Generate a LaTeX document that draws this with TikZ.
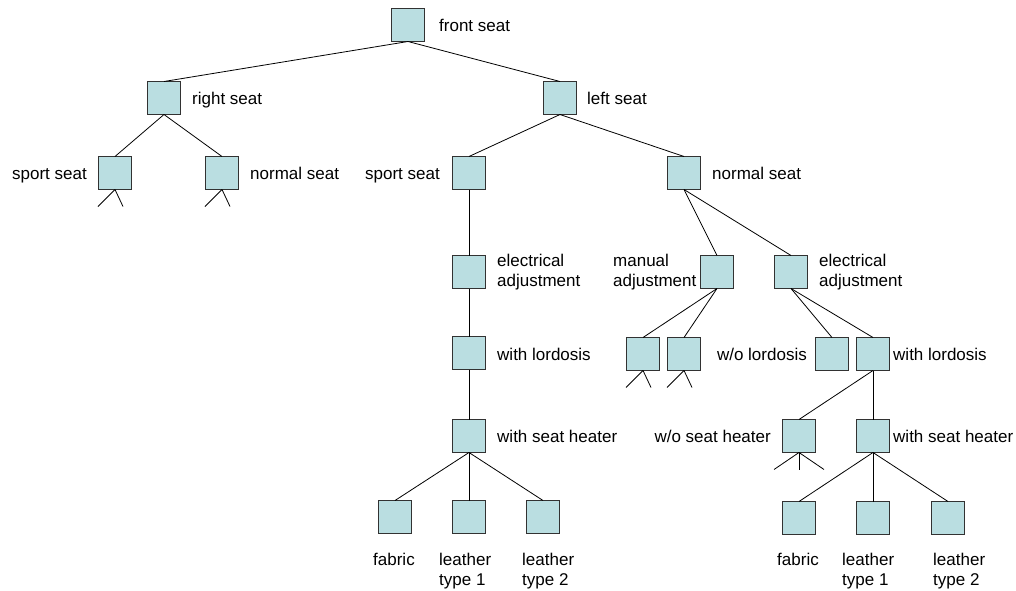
\documentclass[tikz,border=0pt]{standalone}
\usepackage{fontspec}
\setmainfont{Liberation Sans}
\usetikzlibrary{calc}
\definecolor{boxfill}{RGB}{186,222,225}
\definecolor{boxline}{RGB}{50,50,50}
\begin{document}
\begin{tikzpicture}[x=1pt,y=-1pt,
  featbox/.style={draw=boxline,fill=boxfill,line width=1pt,minimum size=33pt,inner sep=0pt,outer sep=0pt},
  lbl/.style={inner sep=0pt,font=\fontsize{17}{20}\selectfont},
  lblml/.style={inner sep=0pt,align=left,font=\fontsize{17}{20}\selectfont},
  conn/.style={line width=0.8pt,black}]
\useasboundingbox (0,0) rectangle (1016,590);
% boxes
\node[featbox] (fs) at (408,25) {};
\node[featbox] (rs) at (164,98) {};
\node[featbox] (ls) at (560,98) {};
\node[featbox] (rss) at (115,173) {};
\node[featbox] (rns) at (222,173) {};
\node[featbox] (lss) at (469,173) {};
\node[featbox] (lns) at (684,173) {};
\node[featbox] (lea) at (469,272) {};
\node[featbox] (lwl) at (469,353) {};
\node[featbox] (lwh) at (469,436) {};
\node[featbox] (lf) at (395,517) {};
\node[featbox] (ll1) at (469,517) {};
\node[featbox] (ll2) at (543,517) {};
\node[featbox] (nma) at (717,272) {};
\node[featbox] (nea) at (791,272) {};
\node[featbox] (m1) at (643,354) {};
\node[featbox] (m2) at (684,354) {};
\node[featbox] (nwo) at (832,354) {};
\node[featbox] (nwl) at (873,354) {};
\node[featbox] (wosh) at (799,436) {};
\node[featbox] (wsh) at (873,436) {};
\node[featbox] (rf) at (799,518) {};
\node[featbox] (rl1) at (873,518) {};
\node[featbox] (rl2) at (948,518) {};
% labels
\node[lbl,anchor=base west] (tfs) at (439,31) {front seat};
\node[lbl,anchor=base west] (trs) at (192,104) {right seat};
\node[lbl,anchor=base west] (tls) at (587,104) {left seat};
\node[lbl,anchor=base east] (trss) at (87,179) {sport seat};
\node[lbl,anchor=base west] (trns) at (250,179) {normal seat};
\node[lbl,anchor=base east] (tlss) at (440,179) {sport seat};
\node[lbl,anchor=base west] (tlns) at (712,179) {normal seat};
\node[lblml,anchor=west] (tlea) at (497,272) {electrical\\adjustment};
\node[lbl,anchor=base west] (tlwl) at (497,360) {with lordosis};
\node[lbl,anchor=base west] (tlwh) at (497,442) {with seat heater};
\node[lblml,anchor=west] (tnma) at (613,272) {manual\\adjustment};
\node[lblml,anchor=west] (tnea) at (819,272) {electrical\\adjustment};
\node[lbl,anchor=base east] (tnwo) at (807,360) {w/o lordosis};
\node[lbl,anchor=base west] (tnwl) at (893,360) {with lordosis};
\node[lbl,anchor=base east] (twosh) at (771,442) {w/o seat heater};
\node[lbl,anchor=base west] (twsh) at (893,442) {with seat heater};
\node[lblml,anchor=north west] (tlf) at (373,553) {fabric};
\node[lblml,anchor=north west] (tll1) at (439,553) {leather\\type 1};
\node[lblml,anchor=north west] (tll2) at (522,553) {leather\\type 2};
\node[lblml,anchor=north west] (trf) at (777,553) {fabric};
\node[lblml,anchor=north west] (trl1) at (842,553) {leather\\type 1};
\node[lblml,anchor=north west] (trl2) at (933,553) {leather\\type 2};
% connectors
\draw[conn] (fs.south) -- (rs.north);
\draw[conn] (fs.south) -- (ls.north);
\draw[conn] (rs.south) -- (rss.north);
\draw[conn] (rs.south) -- (rns.north);
\draw[conn] (ls.south) -- (lss.north);
\draw[conn] (ls.south) -- (lns.north);
\draw[conn] (lss.south) -- (lea.north);
\draw[conn] (lea.south) -- (lwl.north);
\draw[conn] (lwl.south) -- (lwh.north);
\draw[conn] (lwh.south) -- (lf.north);
\draw[conn] (lwh.south) -- (ll1.north);
\draw[conn] (lwh.south) -- (ll2.north);
\draw[conn] (lns.south) -- (nma.north);
\draw[conn] (lns.south) -- (nea.north);
\draw[conn] (nma.south) -- (m1.north);
\draw[conn] (nma.south) -- (m2.north);
\draw[conn] (nea.south) -- (nwo.north);
\draw[conn] (nea.south) -- (nwl.north);
\draw[conn] (nwl.south) -- (wosh.north);
\draw[conn] (nwl.south) -- (wsh.north);
\draw[conn] (wsh.south) -- (rf.north);
\draw[conn] (wsh.south) -- (rl1.north);
\draw[conn] (wsh.south) -- (rl2.north);
% stubs
\coordinate (rssA) at ($(rss.south)+(-17,17)$);
\coordinate (rssB) at ($(rss.south)+(8,17)$);
\coordinate (rnsA) at ($(rns.south)+(-17,17)$);
\coordinate (rnsB) at ($(rns.south)+(8,17)$);
\coordinate (m1A) at ($(m1.south)+(-17,17)$);
\coordinate (m1B) at ($(m1.south)+(8,17)$);
\coordinate (m2A) at ($(m2.south)+(-17,17)$);
\coordinate (m2B) at ($(m2.south)+(8,17)$);
\coordinate (woshA) at ($(wosh.south)+(-25,17)$);
\coordinate (woshB) at ($(wosh.south)+(0,17)$);
\coordinate (woshC) at ($(wosh.south)+(25,17)$);
\draw[conn] (rss.south) -- (rssA);
\draw[conn] (rss.south) -- (rssB);
\draw[conn] (rns.south) -- (rnsA);
\draw[conn] (rns.south) -- (rnsB);
\draw[conn] (m1.south) -- (m1A);
\draw[conn] (m1.south) -- (m1B);
\draw[conn] (m2.south) -- (m2A);
\draw[conn] (m2.south) -- (m2B);
\draw[conn] (wosh.south) -- (woshA);
\draw[conn] (wosh.south) -- (woshB);
\draw[conn] (wosh.south) -- (woshC);
\end{tikzpicture}
\end{document}
